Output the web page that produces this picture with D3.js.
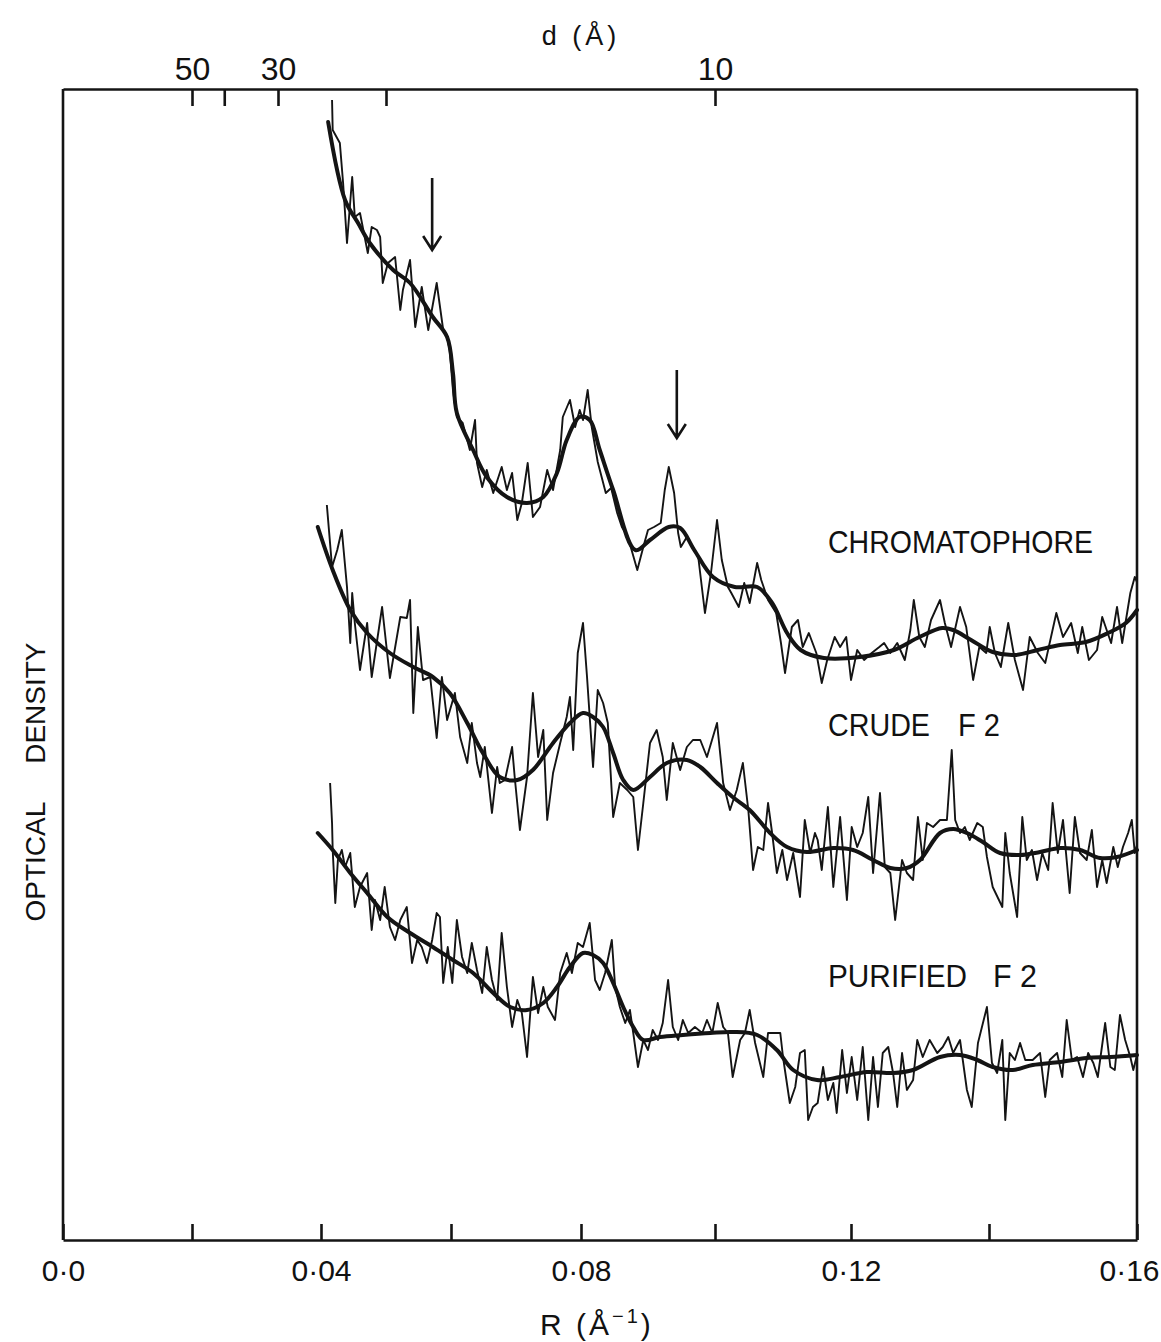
<!DOCTYPE html>
<html>
<head>
<meta charset="utf-8">
<script src="https://cdn.jsdelivr.net/npm/d3@7"></script>
<style>
  body { margin: 0; background: #fff; }
  svg { display: block; background: #fff; }
  text { font-family: "Liberation Sans", Arial, sans-serif; fill: #111; }
</style>
</head>
<body>
<svg id="chart" width="1161" height="1342"></svg>
<script>
// densitometer traces: [R (1/Å), optical density (arb. units)]
const chromatophoreRaw = [
  [0.0417,1.137],[0.0418,1.107],[0.0429,1.094],[0.0434,1.054],[0.0440,0.994],[0.0448,1.060],[0.0452,1.020],
  [0.0460,1.024],[0.0472,0.984],[0.0478,1.010],[0.0486,1.007],[0.0491,1.000],[0.0495,0.954],[0.0503,0.974],
  [0.0514,0.980],[0.0522,0.927],[0.0526,0.947],[0.0537,0.977],[0.0545,0.910],[0.0555,0.950],[0.0565,0.907],
  [0.0578,0.954],[0.0588,0.907],[0.0594,0.900],[0.0598,0.887],[0.0603,0.847],[0.0609,0.820],[0.0618,0.814],
  [0.0629,0.787],[0.0637,0.817],[0.0640,0.774],[0.0648,0.750],[0.0655,0.767],[0.0665,0.744],[0.0678,0.770],
  [0.0686,0.747],[0.0694,0.764],[0.0702,0.717],[0.0709,0.734],[0.0718,0.774],[0.0726,0.720],[0.0737,0.730],
  [0.0748,0.767],[0.0757,0.747],[0.0768,0.787],[0.0772,0.820],[0.0783,0.837],[0.0791,0.810],[0.0798,0.827],
  [0.0803,0.817],[0.0810,0.847],[0.0816,0.810],[0.0825,0.775],[0.0837,0.744],[0.0845,0.749],[0.0854,0.724],
  [0.0861,0.710],[0.0870,0.700],[0.0884,0.667],[0.0893,0.690],[0.0900,0.707],[0.0909,0.710],[0.0919,0.714],
  [0.0925,0.747],[0.0931,0.770],[0.0939,0.744],[0.0945,0.704],[0.0949,0.690],[0.0958,0.700],[0.0967,0.690],
  [0.0975,0.680],[0.0985,0.624],[0.0994,0.664],[0.1003,0.717],[0.1010,0.677],[0.1019,0.650],[0.1024,0.644],
  [0.1035,0.630],[0.1043,0.654],[0.1051,0.634],[0.1062,0.674],[0.1068,0.657],[0.1078,0.637],[0.1090,0.624],
  [0.1097,0.594],[0.1103,0.564],[0.1113,0.610],[0.1122,0.617],[0.1129,0.590],[0.1138,0.604],[0.1149,0.584],
  [0.1157,0.554],[0.1165,0.577],[0.1176,0.600],[0.1184,0.590],[0.1193,0.600],[0.1200,0.557],[0.1209,0.587],
  [0.1219,0.577],[0.1230,0.584],[0.1241,0.590],[0.1248,0.594],[0.1257,0.584],[0.1267,0.594],[0.1278,0.577],
  [0.1286,0.607],[0.1291,0.637],[0.1299,0.600],[0.1307,0.590],[0.1316,0.617],[0.1329,0.637],[0.1336,0.614],
  [0.1345,0.590],[0.1358,0.630],[0.1367,0.610],[0.1377,0.557],[0.1386,0.590],[0.1396,0.584],[0.1401,0.610],
  [0.1408,0.584],[0.1416,0.570],[0.1426,0.614],[0.1435,0.577],[0.1446,0.547],[0.1455,0.600],[0.1466,0.584],
  [0.1476,0.574],[0.1491,0.624],[0.1500,0.600],[0.1511,0.614],[0.1520,0.584],[0.1526,0.610],[0.1535,0.577],
  [0.1546,0.587],[0.1553,0.620],[0.1565,0.594],[0.1573,0.630],[0.1580,0.594],[0.1591,0.644],[0.1597,0.660],
  [0.1600,0.655]
];

const chromatophoreFit = [
  [0.0411,1.115],[0.0437,1.037],[0.0457,1.014],[0.0475,0.994],[0.0511,0.967],[0.0537,0.954],[0.0572,0.920],
  [0.0594,0.900],[0.0603,0.864],[0.0609,0.824],[0.0634,0.787],[0.0655,0.760],[0.0686,0.740],[0.0717,0.734],
  [0.0742,0.740],[0.0763,0.764],[0.0778,0.797],[0.0798,0.820],[0.0813,0.817],[0.0828,0.787],[0.0848,0.747],
  [0.0881,0.687],[0.0903,0.697],[0.0931,0.710],[0.0948,0.709],[0.0969,0.687],[0.0997,0.660],[0.1029,0.650],
  [0.1062,0.650],[0.1084,0.634],[0.1106,0.604],[0.1126,0.587],[0.1160,0.579],[0.1213,0.580],[0.1262,0.587],
  [0.1299,0.600],[0.1332,0.609],[0.1348,0.607],[0.1374,0.597],[0.1405,0.585],[0.1435,0.582],[0.1466,0.587],
  [0.1496,0.592],[0.1531,0.595],[0.1561,0.604],[0.1585,0.614],[0.1600,0.627]
];

const crudeRaw = [
  [0.0409,0.732],[0.0417,0.670],[0.0425,0.687],[0.0432,0.707],[0.0440,0.650],[0.0445,0.594],[0.0448,0.644],
  [0.0452,0.614],[0.0460,0.567],[0.0471,0.614],[0.0478,0.560],[0.0494,0.630],[0.0506,0.559],[0.0522,0.620],
  [0.0532,0.619],[0.0537,0.637],[0.0542,0.524],[0.0549,0.610],[0.0557,0.557],[0.0568,0.560],[0.0578,0.499],
  [0.0586,0.560],[0.0594,0.517],[0.0606,0.544],[0.0614,0.500],[0.0625,0.474],[0.0632,0.514],[0.0640,0.474],
  [0.0645,0.460],[0.0652,0.490],[0.0663,0.424],[0.0671,0.470],[0.0675,0.454],[0.0683,0.457],[0.0694,0.490],
  [0.0698,0.460],[0.0706,0.407],[0.0717,0.460],[0.0726,0.544],[0.0734,0.480],[0.0742,0.507],[0.0748,0.417],
  [0.0757,0.464],[0.0768,0.494],[0.0778,0.520],[0.0783,0.540],[0.0788,0.487],[0.0795,0.584],[0.0803,0.614],
  [0.0809,0.560],[0.0818,0.470],[0.0825,0.547],[0.0833,0.534],[0.0840,0.514],[0.0848,0.420],[0.0858,0.454],
  [0.0869,0.447],[0.0878,0.440],[0.0885,0.387],[0.0893,0.434],[0.0903,0.494],[0.0913,0.507],[0.0922,0.480],
  [0.0928,0.437],[0.0937,0.494],[0.0948,0.467],[0.0958,0.490],[0.0967,0.497],[0.0978,0.497],[0.0988,0.480],
  [0.1003,0.514],[0.1012,0.454],[0.1022,0.427],[0.1032,0.447],[0.1041,0.474],[0.1049,0.427],[0.1056,0.367],
  [0.1063,0.390],[0.1071,0.387],[0.1078,0.434],[0.1084,0.404],[0.1091,0.364],[0.1099,0.387],[0.1106,0.357],
  [0.1115,0.384],[0.1125,0.340],[0.1132,0.417],[0.1140,0.384],[0.1147,0.404],[0.1151,0.397],[0.1157,0.367],
  [0.1166,0.430],[0.1174,0.350],[0.1184,0.420],[0.1194,0.337],[0.1201,0.410],[0.1209,0.390],[0.1217,0.404],
  [0.1225,0.440],[0.1232,0.364],[0.1242,0.444],[0.1249,0.370],[0.1257,0.364],[0.1264,0.317],[0.1274,0.377],
  [0.1281,0.364],[0.1290,0.357],[0.1297,0.420],[0.1304,0.377],[0.1310,0.414],[0.1319,0.410],[0.1329,0.417],
  [0.1339,0.417],[0.1346,0.487],[0.1351,0.417],[0.1358,0.404],[0.1365,0.410],[0.1372,0.397],[0.1383,0.414],
  [0.1391,0.410],[0.1397,0.380],[0.1405,0.350],[0.1418,0.330],[0.1422,0.404],[0.1428,0.364],[0.1438,0.320],
  [0.1445,0.420],[0.1451,0.377],[0.1458,0.387],[0.1465,0.357],[0.1472,0.384],[0.1480,0.367],[0.1486,0.434],
  [0.1493,0.384],[0.1500,0.417],[0.1509,0.344],[0.1516,0.420],[0.1523,0.384],[0.1532,0.377],[0.1539,0.407],
  [0.1546,0.350],[0.1553,0.377],[0.1559,0.354],[0.1568,0.390],[0.1574,0.370],[0.1581,0.390],[0.1588,0.404],
  [0.1593,0.417],[0.1597,0.384],[0.1600,0.392]
];

const crudeFit = [
  [0.0395,0.710],[0.0418,0.667],[0.0445,0.627],[0.0471,0.604],[0.0506,0.584],[0.0542,0.570],[0.0572,0.560],
  [0.0598,0.544],[0.0625,0.514],[0.0649,0.484],[0.0675,0.460],[0.0702,0.457],[0.0726,0.467],[0.0757,0.494],
  [0.0783,0.514],[0.0803,0.524],[0.0818,0.520],[0.0833,0.510],[0.0848,0.484],[0.0863,0.457],[0.0878,0.447],
  [0.0903,0.460],[0.0928,0.474],[0.0958,0.477],[0.0978,0.470],[0.1003,0.454],[0.1026,0.440],[0.1051,0.427],
  [0.1081,0.404],[0.1106,0.390],[0.1135,0.385],[0.1174,0.389],[0.1203,0.387],[0.1232,0.377],[0.1257,0.369],
  [0.1281,0.369],[0.1300,0.377],[0.1329,0.404],[0.1348,0.408],[0.1368,0.404],[0.1391,0.395],[0.1415,0.384],
  [0.1442,0.382],[0.1469,0.385],[0.1496,0.389],[0.1523,0.387],[0.1550,0.379],[0.1573,0.380],[0.1600,0.387]
];

const purifiedRaw = [
  [0.0414,0.454],[0.0417,0.414],[0.0418,0.387],[0.0422,0.334],[0.0426,0.377],[0.0432,0.387],[0.0437,0.370],
  [0.0445,0.384],[0.0452,0.330],[0.0460,0.350],[0.0471,0.364],[0.0478,0.307],[0.0483,0.337],[0.0491,0.317],
  [0.0498,0.350],[0.0506,0.310],[0.0514,0.297],[0.0522,0.317],[0.0532,0.330],[0.0540,0.274],[0.0548,0.297],
  [0.0555,0.290],[0.0563,0.274],[0.0571,0.297],[0.0578,0.324],[0.0583,0.320],[0.0588,0.254],[0.0595,0.290],
  [0.0602,0.254],[0.0609,0.317],[0.0617,0.280],[0.0625,0.264],[0.0632,0.294],[0.0640,0.267],[0.0648,0.244],
  [0.0655,0.290],[0.0663,0.257],[0.0671,0.237],[0.0678,0.304],[0.0686,0.250],[0.0694,0.210],[0.0702,0.237],
  [0.0709,0.224],[0.0717,0.180],[0.0726,0.260],[0.0734,0.224],[0.0742,0.250],[0.0749,0.230],[0.0760,0.217],
  [0.0768,0.264],[0.0778,0.284],[0.0786,0.264],[0.0795,0.294],[0.0803,0.290],[0.0813,0.314],[0.0821,0.257],
  [0.0828,0.247],[0.0836,0.264],[0.0846,0.297],[0.0851,0.250],[0.0858,0.230],[0.0866,0.214],[0.0873,0.227],
  [0.0878,0.204],[0.0885,0.170],[0.0893,0.197],[0.0900,0.187],[0.0907,0.207],[0.0915,0.197],[0.0922,0.214],
  [0.0930,0.257],[0.0937,0.210],[0.0945,0.197],[0.0952,0.217],[0.0960,0.204],[0.0970,0.210],[0.0981,0.204],
  [0.0988,0.217],[0.0996,0.204],[0.1004,0.234],[0.1012,0.210],[0.1019,0.204],[0.1026,0.160],[0.1037,0.197],
  [0.1044,0.204],[0.1051,0.227],[0.1059,0.194],[0.1071,0.160],[0.1078,0.204],[0.1096,0.204],[0.1100,0.180],
  [0.1110,0.134],[0.1118,0.150],[0.1125,0.184],[0.1132,0.187],[0.1137,0.117],[0.1144,0.130],[0.1151,0.134],
  [0.1159,0.170],[0.1166,0.137],[0.1174,0.154],[0.1179,0.124],[0.1187,0.187],[0.1194,0.144],[0.1201,0.180],
  [0.1209,0.137],[0.1217,0.190],[0.1225,0.117],[0.1232,0.180],[0.1239,0.130],[0.1246,0.184],[0.1254,0.190],
  [0.1261,0.164],[0.1267,0.130],[0.1274,0.184],[0.1281,0.147],[0.1290,0.157],[0.1296,0.197],[0.1304,0.180],
  [0.1314,0.197],[0.1325,0.184],[0.1333,0.190],[0.1341,0.200],[0.1348,0.184],[0.1358,0.197],[0.1368,0.147],
  [0.1375,0.130],[0.1384,0.194],[0.1397,0.230],[0.1404,0.174],[0.1411,0.164],[0.1418,0.197],[0.1422,0.117],
  [0.1428,0.184],[0.1435,0.177],[0.1442,0.194],[0.1449,0.177],[0.1459,0.177],[0.1469,0.184],[0.1476,0.140],
  [0.1482,0.177],[0.1492,0.184],[0.1499,0.160],[0.1505,0.217],[0.1512,0.177],[0.1519,0.180],[0.1527,0.160],
  [0.1534,0.184],[0.1541,0.174],[0.1547,0.160],[0.1557,0.214],[0.1564,0.170],[0.1570,0.167],[0.1577,0.222],
  [0.1584,0.197],[0.1591,0.180],[0.1595,0.167],[0.1600,0.182]
];

const purifiedFit = [
  [0.0395,0.404],[0.0418,0.387],[0.0445,0.364],[0.0471,0.344],[0.0502,0.320],[0.0537,0.304],[0.0572,0.290],
  [0.0603,0.277],[0.0634,0.264],[0.0665,0.244],[0.0691,0.230],[0.0717,0.227],[0.0742,0.234],[0.0763,0.250],
  [0.0783,0.270],[0.0803,0.284],[0.0818,0.282],[0.0833,0.274],[0.0848,0.254],[0.0863,0.230],[0.0878,0.210],
  [0.0893,0.197],[0.0918,0.200],[0.0952,0.202],[0.0993,0.204],[0.1026,0.205],[0.1062,0.202],[0.1091,0.187],
  [0.1115,0.167],[0.1150,0.157],[0.1184,0.160],[0.1223,0.165],[0.1261,0.164],[0.1290,0.167],[0.1329,0.180],
  [0.1358,0.182],[0.1383,0.177],[0.1405,0.170],[0.1432,0.167],[0.1459,0.172],[0.1496,0.175],[0.1532,0.179],
  [0.1564,0.180],[0.1600,0.182]
];

// arrows on the chromatophore trace: [R, OD at tail, OD at tip]
const arrowMarks = [[0.0571, 1.059, 0.987], [0.0943, 0.867, 0.799]];

const seriesNames = ["CHROMATOPHORE", "CRUDE F2", "PURIFIED F2"];
const rTicks = [0, 0.02, 0.04, 0.06, 0.08, 0.1, 0.12, 0.14, 0.16];
const rTickLabels = ["0·0", "", "0·04", "", "0·08", "", "0·12", "", "0·16"];
const dTicks = [50, 40, 30, 20, 10];
const dTickLabels = ["50", "", "30", "", "10"];

// ---- layout ----
const svg = d3.select("#chart");
const plotLeft = 63, plotRight = 1137, plotTop = 89, plotBottom = 1240;
// the scanned R axis is slightly stretched towards high R
const xStops = [63, 192, 321, 451, 581, 715, 851, 989, 1137];

const x = d3.scaleLinear().domain(rTicks).range(xStops);
const y = d3.scaleLinear().domain([0, 1.148]).range([1237, plotTop]);

const ink = "#141414";

// frame sides
svg.append("line").attr("x1", plotLeft).attr("x2", plotLeft).attr("y1", plotTop).attr("y2", plotBottom)
  .attr("stroke", ink).attr("stroke-width", 2.6);
svg.append("line").attr("x1", plotRight).attr("x2", plotRight).attr("y1", plotTop).attr("y2", plotBottom)
  .attr("stroke", ink).attr("stroke-width", 2.6);

const xAxis = d3.axisBottom(x)
  .tickValues(rTicks)
  .tickSize(-16)
  .tickSizeOuter(0)
  .tickPadding(20)
  .tickFormat((d, i) => rTickLabels[i]);

const gx = svg.append("g")
  .attr("transform", "translate(0," + plotBottom + ")")
  .call(xAxis);
gx.attr("font-size", 30).attr("font-family", null);
gx.selectAll("path, line").attr("stroke", ink).attr("stroke-width", 2.6);
gx.selectAll("text").attr("fill", ink);
// last label sits against the right edge, as in the print
gx.selectAll(".tick text").filter((d) => d === 0.16)
  .attr("text-anchor", "end").attr("x", 22);

const dAxis = d3.axisTop(x)
  .tickValues(dTicks.map((d) => 1 / d))
  .tickSize(-17)
  .tickSizeOuter(0)
  .tickPadding(9)
  .tickFormat((d, i) => dTickLabels[i]);

const gd = svg.append("g")
  .attr("transform", "translate(0," + plotTop + ")")
  .call(dAxis);
gd.attr("font-size", 32).attr("font-family", null);
gd.selectAll("path, line").attr("stroke", ink).attr("stroke-width", 2.6);
gd.selectAll("text").attr("fill", ink);

// axis titles
svg.append("text")
  .attr("x", 581).attr("y", 45)
  .attr("text-anchor", "middle")
  .attr("font-size", 27)
  .attr("letter-spacing", 4)
  .text("d (Å)");

const rTitle = svg.append("text")
  .attr("x", 540).attr("y", 1335)
  .attr("font-size", 30)
  .attr("letter-spacing", 3);
rTitle.append("tspan").text("R  (Å");
rTitle.append("tspan").attr("font-size", 20).attr("dy", -12).text("−1");
rTitle.append("tspan").attr("dy", 12).text(")");

svg.append("text")
  .attr("transform", "translate(45,782) rotate(-90)")
  .attr("text-anchor", "middle")
  .attr("font-size", 28)
  .attr("xml:space", "preserve")
  .text("OPTICAL     DENSITY");

// traces
const rawLine = d3.line().x((d) => x(d[0])).y((d) => y(d[1]));
const fitLine = d3.line().x((d) => x(d[0])).y((d) => y(d[1])).curve(d3.curveCatmullRom.alpha(0.5));

const traces = [
  { raw: chromatophoreRaw, fit: chromatophoreFit },
  { raw: crudeRaw, fit: crudeFit },
  { raw: purifiedRaw, fit: purifiedFit }
];

const g = svg.append("g");
traces.forEach((t) => {
  g.append("path").datum(t.raw)
    .attr("d", rawLine)
    .attr("fill", "none")
    .attr("stroke", ink)
    .attr("stroke-width", 1.9)
    .attr("stroke-linejoin", "round");
  g.append("path").datum(t.fit)
    .attr("d", fitLine)
    .attr("fill", "none")
    .attr("stroke", ink)
    .attr("stroke-width", 4)
    .attr("stroke-linecap", "round");
});

// arrows
arrowMarks.forEach((a) => {
  const ax = x(a[0]), y0 = y(a[1]), y1 = y(a[2]);
  svg.append("path")
    .attr("d", "M" + ax + "," + y0 + "V" + y1 + "M" + (ax - 9) + "," + (y1 - 14) + "L" + ax + "," + y1 + "L" + (ax + 9) + "," + (y1 - 14))
    .attr("fill", "none")
    .attr("stroke", ink)
    .attr("stroke-width", 2.6);
});

// trace labels
const labelSpots = [
  [{ t: "CHROMATOPHORE", x: 828, w: 265 }],
  [{ t: "CRUDE", x: 828, w: 102 }, { t: "F 2", x: 958, w: 42 }],
  [{ t: "PURIFIED", x: 828, w: 139 }, { t: "F 2", x: 993, w: 44 }]
];
const labelBase = [553, 736, 987];

seriesNames.forEach((name, i) => {
  labelSpots[i].forEach((p) => {
    svg.append("text")
      .attr("x", p.x).attr("y", labelBase[i])
      .attr("font-size", 32)
      .attr("textLength", p.w)
      .attr("lengthAdjust", "spacingAndGlyphs")
      .text(p.t);
  });
});
</script>
</body>
</html>
